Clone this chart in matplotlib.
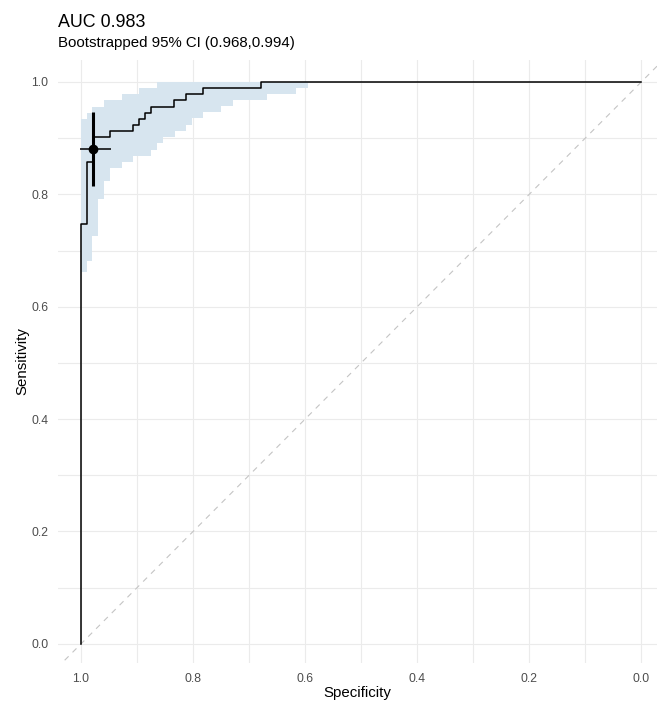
""" Courbe ROC avec bande de confiance bootstrap """
import numpy as np
import matplotlib
matplotlib.use("Agg")
import matplotlib.pyplot as plt

plt.rcParams['font.family'] = ['Liberation Sans', 'DejaVu Sans']

# Courbe ROC (marches, specificite decroissante)
roc_spec = [1.000, 1.000, 0.989, 0.979, 0.948, 0.907, 0.897, 0.886, 0.875, 0.834, 0.813, 0.782, 0.678, 0.000]
roc_sens = [0.000, 0.747, 0.858, 0.902, 0.913, 0.923, 0.934, 0.945, 0.956, 0.967, 0.978, 0.989, 1.000, 1.000]

# Bande de confiance : bord inferieur et superieur
band_lo_spec = [1.000, 0.990, 0.980, 0.969, 0.959, 0.948, 0.927, 0.907, 0.875, 0.864,
                0.854, 0.833, 0.813, 0.801, 0.782, 0.750, 0.729, 0.668, 0.616]
band_lo = [0.662, 0.682, 0.726, 0.792, 0.824, 0.846, 0.857, 0.868, 0.879, 0.891,
           0.902, 0.913, 0.924, 0.935, 0.946, 0.957, 0.968, 0.979, 0.990]
band_hi_spec = [1.000, 0.990, 0.980, 0.959, 0.927, 0.896, 0.864]
band_hi = [0.934, 0.945, 0.956, 0.967, 0.978, 0.989, 1.000]
band_end = 0.595

# Seuil optimal et ses intervalles
best_spec, best_sens = 0.979, 0.880
best_spec_ci = (1.002, 0.947)
best_sens_ci = (0.814, 0.946)

ticks = [1.0, 0.8, 0.6, 0.4, 0.2, 0.0]
minor = [0.9, 0.7, 0.5, 0.3, 0.1]


def step_at(x, brk, vals):
    # valeur de la marche qui couvre x
    i = max(k for k, b in enumerate(brk) if b >= x - 1e-9)
    return vals[i]


xs = sorted(set(band_lo_spec + band_hi_spec + [band_end]), reverse=True)
lo = [step_at(x, band_lo_spec, band_lo) for x in xs]
hi = [step_at(x, band_hi_spec, band_hi) for x in xs]

fig = plt.figure(figsize=(6.57, 7.02), dpi=100)
ax = fig.add_axes([58 / 657, 1 - 663 / 702, 599 / 657, 603 / 702])

ax.set_xlim(1.041, -0.028)
ax.set_ylim(-0.034, 1.039)

# grille facon theme_minimal
for v in ticks + minor:
    ax.axvline(v, color='#ebebeb', lw=0.8, zorder=0)
    ax.axhline(v, color='#ebebeb', lw=0.8, zorder=0)

ax.fill_between(xs, lo, hi, step='post', color='#d7e5ef', lw=0, zorder=1)
ax.axline((1, 0), (0, 1), color='#c4c4c4', lw=0.8, ls=(0, (5, 5)), zorder=2)
ax.step(roc_spec, roc_sens, where='post', color='black', lw=1.1, zorder=3)

ax.vlines(best_spec, *best_sens_ci, color='black', lw=2.2, zorder=4)
ax.hlines(best_sens, *best_spec_ci, color='black', lw=1.1, zorder=4)
ax.plot(best_spec, best_sens, 'o', color='black', ms=6, zorder=5)

ax.set_xticks(ticks)
ax.set_yticks(ticks)
ax.set_xticklabels([f"{t:.1f}" for t in ticks])
ax.set_yticklabels([f"{t:.1f}" for t in ticks])
ax.tick_params(length=0, labelsize=8.7, labelcolor='#4d4d4d', pad=7)
for s in ax.spines.values():
    s.set_visible(False)

ax.set_xlabel("Specificity", fontsize=10.8, labelpad=1)
ax.set_ylabel("Sensitivity", fontsize=10.8, labelpad=1)

fig.text(58 / 657, 1 - 27 / 702, "AUC 0.983", fontsize=12.9, ha='left', va='baseline')
fig.text(58 / 657, 1 - 47 / 702, "Bootstrapped 95% CI (0.968,0.994)", fontsize=10.8, ha='left', va='baseline')

plt.savefig('out.png', dpi=100)
